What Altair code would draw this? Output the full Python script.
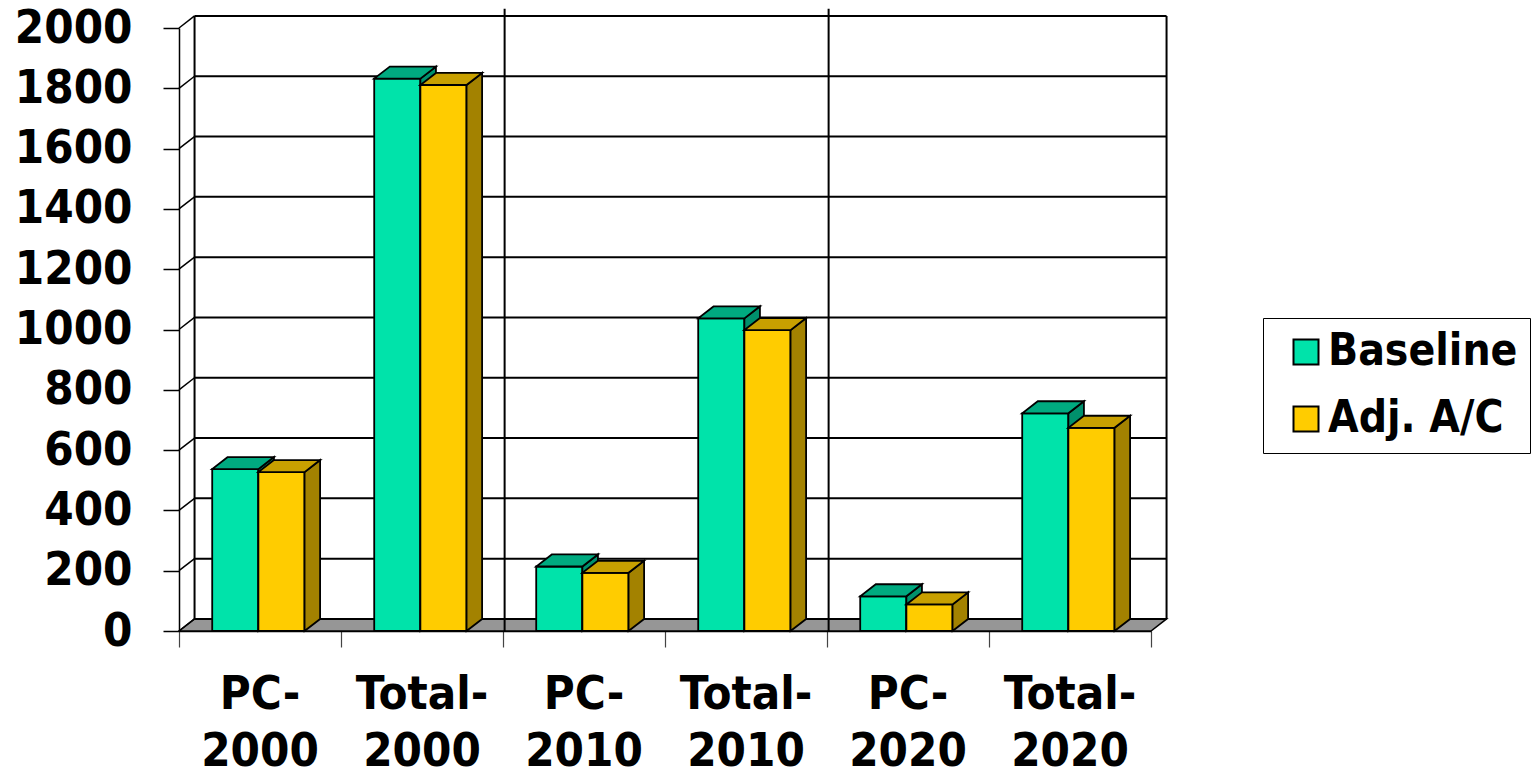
import altair as alt
import pandas as pd

# ---- data -------------------------------------------------------------
categories = ["PC-2000", "Total-2000", "PC-2010", "Total-2010", "PC-2020", "Total-2020"]
series = ["Baseline", "Adj. A/C"]
baseline = [537, 1832, 214, 1037, 115, 722]
adj_ac = [527, 1811, 193, 998, 88, 674]
y_ticks = list(range(0, 2001, 200))
decade_breaks = [2, 4]  # dividers between the decade groups

# ---- style ------------------------------------------------------------
FONT = "DejaVu Sans Condensed"
front_colors = ["#00E3AA", "#FFCC00"]
top_colors = ["#00AA80", "#C8A000"]
side_colors = ["#00906C", "#A38200"]
FLOOR = "#969696"

# pseudo-3D depth expressed in data units (x: categories, y: value)
DX = 0.096
DY = 40
BAR_W = 0.285
LEAD = 0.205
Y_MAX = 2000
N = len(categories)

xs = alt.Scale(domain=[0, N], nice=False, zero=False)
ys = alt.Scale(domain=[0, Y_MAX], nice=False)
x_axis = alt.Axis(values=list(range(N + 1)), labels=False, title=None, grid=False,
                  tickSize=16, tickColor="#444444", tickWidth=1.2,
                  domainColor="black", domainWidth=1.5)
y_axis = alt.Axis(values=y_ticks, format="d", title=None, grid=False, tickSize=16,
                  tickColor="black", tickWidth=1.5, domainColor="black", domainWidth=1.5,
                  labelFont=FONT, labelFontSize=47, labelFontWeight="bold",
                  labelColor="black", labelPadding=31)


def X(field):
    return alt.X(field, type="quantitative", scale=xs, axis=x_axis)


def Y(field):
    return alt.Y(field, type="quantitative", scale=ys, axis=y_axis)


# ---- tables -----------------------------------------------------------
values = {series[0]: baseline, series[1]: adj_ac}
front_rows, side_rows, top_rows = [], [], []
for s_i, s in enumerate(series):
    for i, v in enumerate(values[s]):
        x0 = i + LEAD + s_i * BAR_W
        x1 = x0 + BAR_W
        bar = f"{s}|{i}"
        front_rows.append(dict(series=s, bar=bar, x0=x0, x1=x1, base=0, v=v))
        side_rows += [
            dict(series=s, bar=bar, x=x1, lo=0, hi=v, c=side_colors[s_i]),
            dict(series=s, bar=bar, x=x1 + DX, lo=DY, hi=v + DY, c=side_colors[s_i]),
        ]
        top_rows += [
            dict(series=s, bar=bar, y=v, xa=x0, xb=x1, c=top_colors[s_i]),
            dict(series=s, bar=bar, y=v + DY, xa=x0 + DX, xb=x1 + DX, c=top_colors[s_i]),
        ]
front_df = pd.DataFrame(front_rows)
side_df = pd.DataFrame(side_rows)
top_df = pd.DataFrame(top_rows)

floor_df = pd.DataFrame([dict(y=0, xa=0, xb=N), dict(y=DY, xa=DX, xb=N + DX)])
grid_df = pd.DataFrame(dict(v=y_ticks, vb=[t + DY for t in y_ticks],
                            xa=[0] * len(y_ticks), xb=[DX] * len(y_ticks),
                            xe=[N + DX] * len(y_ticks)))
edges_df = pd.DataFrame(dict(x=[DX, N + DX], lo=[DY, DY], hi=[Y_MAX + DY, Y_MAX + DY]))
breaks_df = pd.DataFrame(dict(x=[b + 0.01 for b in decade_breaks], lo=[0] * len(decade_breaks),
                              hi=[Y_MAX + 1.6 * DY] * len(decade_breaks)))
label_df = pd.DataFrame(dict(xc=[i + 0.5 for i in range(N)],
                             label=[c.replace("-", "-\n", 1) for c in categories]))

# ---- walls and floor ------------------------------------------------------
floor = alt.Chart(floor_df).mark_area(orient="horizontal", fill=FLOOR, stroke="black",
                                      strokeWidth=1.5).encode(y=Y("y"), x=X("xa"), x2="xb")
back_grid = alt.Chart(grid_df).mark_rule(color="black", strokeWidth=2).encode(
    x=X("xb"), x2="xe", y=Y("vb"))
side_grid = alt.Chart(grid_df).mark_rule(color="black", strokeWidth=1.5).encode(
    x=X("xa"), x2="xb", y=Y("v"), y2="vb")
edges = alt.Chart(edges_df).mark_rule(color="black", strokeWidth=2).encode(
    x=X("x"), y=Y("lo"), y2="hi")
breaks = alt.Chart(breaks_df).mark_rule(color="black", strokeWidth=2).encode(
    x=X("x"), y=Y("lo"), y2="hi")

legend = alt.Legend(orient="none", legendX=1084, legendY=290, title=None,
                    symbolType="square", symbolSize=625, symbolStrokeColor="black",
                    symbolStrokeWidth=2, symbolOffset=9, labelFont=FONT, labelFontSize=44,
                    labelFontWeight="bold", labelColor="black", labelOffset=0,
                    labelLimit=0, rowPadding=23, padding=12,
                    strokeColor="black", fillColor="white")

# ---- bars, drawn series by series so later bars cover earlier side faces ---
bar_layers = []
for s in series:
    bar_layers.append(
        alt.Chart(front_df).transform_filter(alt.datum.series == s)
        .mark_rect(stroke="black", strokeWidth=1.8)
        .encode(x=X("x0"), x2="x1", y=Y("base"), y2="v",
                color=alt.Color("series:N", scale=alt.Scale(domain=series, range=front_colors),
                                legend=legend))
    )
    bar_layers.append(
        alt.Chart(side_df).transform_filter(alt.datum.series == s)
        .mark_area(orient="vertical", stroke="black", strokeWidth=1.8, strokeJoin="miter")
        .encode(x=X("x"), y=Y("lo"), y2="hi", fill=alt.Fill("c:N", scale=None),
                detail="bar:N")
    )
    bar_layers.append(
        alt.Chart(top_df).transform_filter(alt.datum.series == s)
        .mark_area(orient="horizontal", stroke="black", strokeWidth=1.8, strokeJoin="miter")
        .encode(y=Y("y"), x=X("xa"), x2="xb", fill=alt.Fill("c:N", scale=None),
                detail="bar:N")
    )

labels = alt.Chart(label_df).mark_text(
    font=FONT, fontSize=47, fontWeight="bold", color="black", lineBreak="\n",
    baseline="top", align="center", lineHeight=57,
).encode(x=X("xc"), y=alt.value(644), text="label:N")

chart = alt.layer(floor, back_grid, side_grid, edges, breaks, *bar_layers, labels).properties(
    width=972, height=603,
    padding={"left": 179, "top": 28, "right": 386, "bottom": 142},
    autosize=alt.AutoSizeParams(type="none"),
    background="white",
).configure_view(strokeWidth=0, stroke="transparent")

chart.save("out.html", embed_options={"renderer": "svg", "actions": False})
